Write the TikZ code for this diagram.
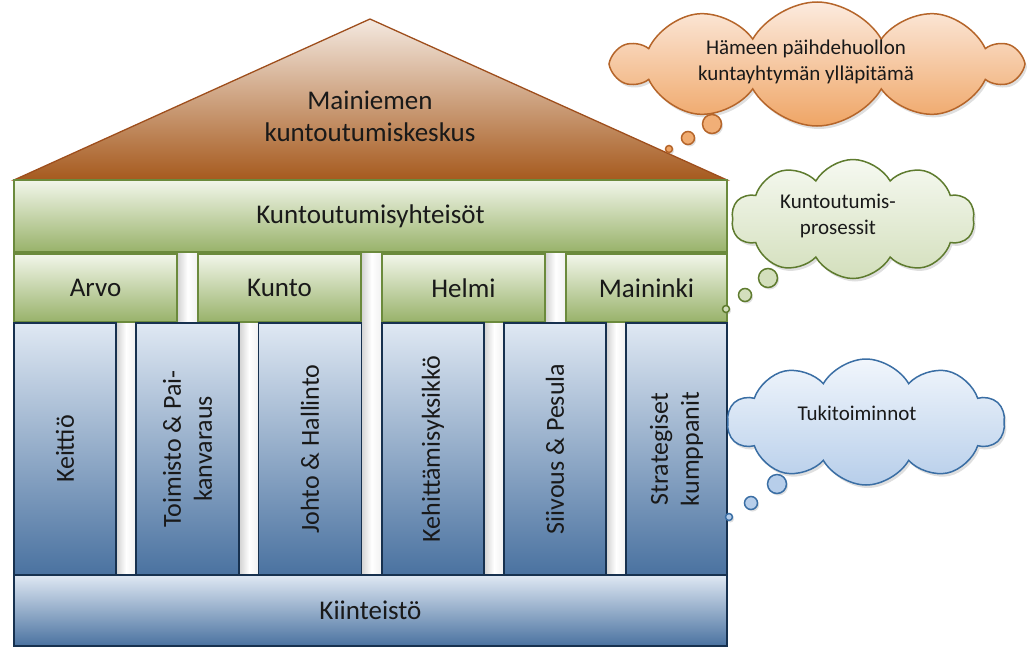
\documentclass[tikz,border=0pt]{standalone}
\usepackage{fontspec}
\setmainfont{Carlito}
\usetikzlibrary{shapes.symbols,shadows}
\definecolor{roofT}{HTML}{F4E9E0}
\definecolor{roofB}{HTML}{A65A1E}
\definecolor{roofD}{HTML}{9E4E1C}
\definecolor{grnT}{HTML}{F2F6EA}
\definecolor{grnB}{HTML}{98B26A}
\definecolor{grnD}{HTML}{6B8A3C}
\definecolor{bluT}{HTML}{DFE8F3}
\definecolor{bluB}{HTML}{4A72A0}
\definecolor{bluD}{HTML}{17314F}
\definecolor{orT}{HTML}{FCEBDF}
\definecolor{orB}{HTML}{EFA565}
\definecolor{orD}{HTML}{B5652A}
\definecolor{gcT}{HTML}{F6F9F1}
\definecolor{gcB}{HTML}{D3DFBC}
\definecolor{gcD}{HTML}{5E7B2E}
\definecolor{bcT}{HTML}{F1F6FC}
\definecolor{bcB}{HTML}{B7CEEA}
\definecolor{bcD}{HTML}{3A6EA4}
\begin{document}
\begin{tikzpicture}[x=1pt,y=-1pt,
  lbl/.style={font=\fontsize{27}{32}\selectfont, text=black!90, align=center},
  clbl/.style={font=\fontsize{21}{26}\selectfont, text=black!90, align=center},
  gbox/.style={rectangle, draw=grnD, line width=1.5pt, top color=grnT, bottom color=grnB, inner sep=0pt},
  bbox/.style={rectangle, draw=bluD, line width=1.5pt, top color=bluT, bottom color=bluB, inner sep=0pt},
  vlbl/.style={lbl, font=\fontsize{26}{31}\selectfont, rotate=90},
  gapfill/.style={left color=black!18, right color=black!6, middle color=white},
  thought/.style={cloud, cloud puffs=10, cloud puff arc=120, cloud ignores aspect, line width=1.5pt, inner sep=0pt,
     drop shadow={opacity=.25, shadow xshift=2pt, shadow yshift=-3pt}},
  bub/.style={circle, line width=1.5pt, inner sep=0pt,
     drop shadow={opacity=.25, shadow xshift=1.5pt, shadow yshift=-2pt}}
]
\useasboundingbox (0,0) rectangle (1027,648);
% gaps
\shade[gapfill] (177,253) rectangle (198,323);
\shade[gapfill] (361,253) rectangle (382,575);
\shade[gapfill] (545,253) rectangle (566,323);
\shade[gapfill] (116,323) rectangle (136,575);
\shade[gapfill] (239,323) rectangle (259,575);
\shade[gapfill] (484,323) rectangle (504,575);
\shade[gapfill] (606,323) rectangle (626,575);
% roof
\coordinate (rl) at (14,180);
\coordinate (ra) at (370,19);
\coordinate (rr) at (727,180);
\path[draw=roofD, line width=1.3pt, top color=roofT, bottom color=roofB] (rl) -- (ra) -- (rr) -- cycle;
\node[lbl] (roof) at (370,116) {Mainiemen\\kuntoutumiskeskus};
% band
\node[gbox, minimum width=713, minimum height=72] (band) at (370.5,216) {};
\node[lbl] (bandt) at (band.center) {Kuntoutumisyhteisöt};
% green boxes
\node[gbox, minimum width=163, minimum height=68] (arvo) at (95.5,288) {};
\node[gbox, minimum width=163, minimum height=68] (kunto) at (279.5,288) {};
\node[gbox, minimum width=163, minimum height=68] (helmi) at (463.5,288) {};
\node[gbox, minimum width=161, minimum height=68] (maininki) at (646.5,288) {};
\node[lbl] (arvot) at (arvo.center) {Arvo};
\node[lbl] (kuntot) at (kunto.center) {Kunto};
\node[lbl] (helmit) at (helmi.center) {Helmi};
\node[lbl] (maininkit) at (maininki.center) {Maininki};
% pillars
\node[bbox, minimum width=102, minimum height=252] (p1) at (65,449) {};
\node[bbox, minimum width=103, minimum height=252] (p2) at (187.5,449) {};
\node[bbox, minimum width=103, minimum height=252] (p3) at (310,449) {};
\node[bbox, minimum width=102, minimum height=252] (p4) at (433,449) {};
\node[bbox, minimum width=102, minimum height=252] (p5) at (555,449) {};
\node[bbox, minimum width=101, minimum height=252] (p6) at (676.5,449) {};
\node[vlbl] (p1t) at (p1.center) {Keittiö};
\node[vlbl] (p2t) at (p2.center) {Toimisto \& Pai-\\kanvaraus};
\node[vlbl] (p3t) at (p3.center) {Johto \& Hallinto};
\node[vlbl] (p4t) at (p4.center) {Kehittämisyksikkö};
\node[vlbl] (p5t) at (p5.center) {Siivous \& Pesula};
\node[vlbl] (p6t) at (p6.center) {Strategiset\\kumppanit};
% base
\node[bbox, minimum width=713, minimum height=71] (base) at (370.5,610.5) {};
\node[lbl] (baset) at (base.center) {Kiinteistö};
% orange cloud
\node[thought, draw=orD, top color=orT, bottom color=orB, minimum width=405, minimum height=124] (c1) at (817,64) {};
\node[clbl] (c1t) at (806,62) {Hämeen päihdehuollon\\kuntayhtymän ylläpitämä};
\node[bub, draw=orD, fill=orB!85!orT, minimum size=19] (c1a) at (712,124) {};
\node[bub, draw=orD, fill=orB!90!orT, minimum size=13] (c1b) at (688,138) {};
\node[bub, draw=orD, fill=orB, minimum size=7] (c1c) at (669,149) {};
% green cloud
\node[thought, draw=gcD, top color=gcT, bottom color=gcB, minimum width=243, minimum height=119] (c2) at (853,219) {};
\node[clbl] (c2t) at (838,216) {Kuntoutumis-\\prosessit};
\node[bub, draw=gcD, fill=gcB, minimum size=19] (c2a) at (768,278) {};
\node[bub, draw=gcD, fill=gcB, minimum size=13] (c2b) at (745,295) {};
\node[bub, draw=gcD, fill=gcB, minimum size=7] (c2c) at (726,309) {};
% blue cloud
\node[thought, draw=bcD, top color=bcT, bottom color=bcB, minimum width=277, minimum height=126] (c3) at (866,422) {};
\node[clbl] (c3t) at (857,413) {Tukitoiminnot};
\node[bub, draw=bcD, fill=bcB, minimum size=19] (c3a) at (777,484) {};
\node[bub, draw=bcD, fill=bcB, minimum size=13] (c3b) at (751,503) {};
\node[bub, draw=bcD, fill=bcB, minimum size=7] (c3c) at (729,517) {};
\end{tikzpicture}
\end{document}
